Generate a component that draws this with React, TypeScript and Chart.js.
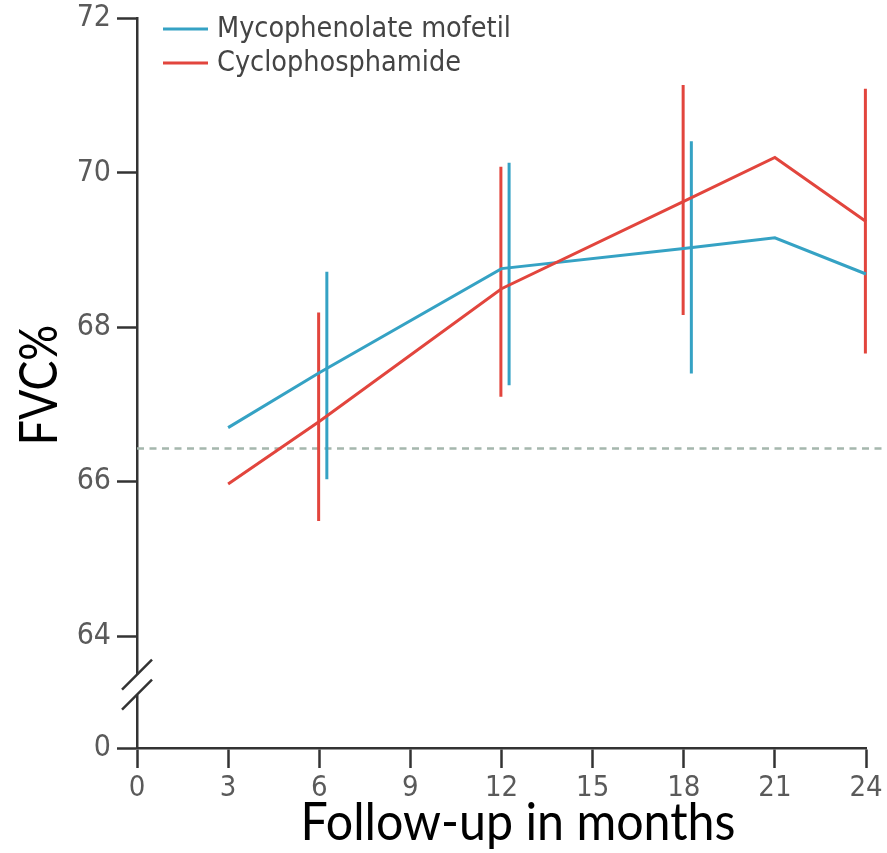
import React, { useEffect, useRef } from 'react';
import { Chart, registerables } from 'chart.js';

Chart.register(...registerables);

// ---- data ----
const months = [3, 6, 12, 18, 21, 24];
const mmfValues = [66.7, 67.41, 68.76, 69.02, 69.16, 68.69];
const cycValues = [65.97, 66.78, 68.5, 69.63, 70.2, 69.37];
const errMonths = [6, 12, 18, 24];
const mmfLow = [66.03, 67.25, 67.4, 66.95];
const mmfHigh = [68.72, 70.13, 70.41, 70.32];
const cycLow = [65.49, 67.1, 68.16, 67.66];
const cycHigh = [68.19, 70.08, 71.14, 71.09];
const baselineFVC = 66.43;
const xTicks = [0, 3, 6, 9, 12, 15, 18, 21, 24];
const yTicks = [64, 66, 68, 70, 72];
const yZeroAt = 62.55; // value position used for the "0" below the axis break
const yBreak = [63.5, 63.24];
const seriesLabels = ['Mycophenolate mofetil', 'Cyclophosphamide'];
const xTitle = 'Follow-up in months';
const yTitle = 'FVC%';

const BLUE = '#35a2c4';
const RED = '#e2453d';
const AXIS = '#333333';
const NARROW = "'Liberation Sans Narrow', 'DejaVu Sans Condensed', 'Arial Narrow', sans-serif";
const TITLE = "Lato, 'Open Sans', sans-serif";

const mmfShift = 0.25;
const cycShift = -0.02;

function errData(low: number[], high: number[], shift: number) {
  const out: any[] = [];
  errMonths.forEach((m, i) => {
    out.push({ x: m + shift, y: low[i] });
    out.push({ x: m + shift, y: high[i] });
    out.push({ x: m + shift, y: null });
  });
  return out;
}

const decor = {
  id: 'decor',
  afterDraw(chart: any) {
    const { ctx, scales } = chart;
    const x = scales.x;
    const y = scales.y;
    const ax = x.left;
    const b1 = y.getPixelForValue(yBreak[0]);
    const b2 = y.getPixelForValue(yBreak[1]);
    ctx.save();
    ctx.fillStyle = '#ffffff';
    ctx.fillRect(ax - 3, b1, 6, b2 - b1);
    ctx.strokeStyle = AXIS;
    ctx.lineWidth = 2.5;
    [b1, b2].forEach((b) => {
      ctx.beginPath();
      ctx.moveTo(ax - 15, b + 15);
      ctx.lineTo(ax + 15, b - 15);
      ctx.stroke();
    });

    // legend
    ctx.font = `28.5px ${NARROW}`;
    ctx.textBaseline = 'middle';
    ctx.textAlign = 'left';
    [BLUE, RED].forEach((c, i) => {
      const ly = 29 + i * 34;
      ctx.strokeStyle = c;
      ctx.lineWidth = 3;
      ctx.beginPath();
      ctx.moveTo(163, ly);
      ctx.lineTo(208, ly);
      ctx.stroke();
      ctx.fillStyle = '#444444';
      ctx.fillText(seriesLabels[i], 217, ly + 1);
    });

    // axis titles
    ctx.fillStyle = '#000000';
    ctx.font = `52px ${TITLE}`;
    ctx.textAlign = 'center';
    ctx.textBaseline = 'alphabetic';
    ctx.save();
    ctx.translate(518, 840);
    ctx.scale(0.93, 1);
    ctx.fillText(xTitle, 0, 0);
    ctx.restore();
    ctx.translate(57, 385);
    ctx.rotate(-Math.PI / 2);
    ctx.scale(0.86, 1);
    ctx.fillText(yTitle, 0, 0);
    ctx.restore();
  },
};

export default function App() {
  const ref = useRef<HTMLCanvasElement | null>(null);
  useEffect(() => {
    const canvas = ref.current!;
    const chart = new Chart(canvas, {
      type: 'line',
      data: {
        datasets: [
          {
            label: seriesLabels[0],
            data: months.map((m, i) => ({ x: m, y: mmfValues[i] })),
            borderColor: BLUE,
            borderWidth: 3,
            pointRadius: 0,
            tension: 0,
            clip: false,
            order: 2,
          },
          {
            label: seriesLabels[1],
            data: months.map((m, i) => ({ x: m, y: cycValues[i] })),
            borderColor: RED,
            borderWidth: 3,
            pointRadius: 0,
            tension: 0,
            clip: false,
            order: 1,
          },
          {
            label: 'mmf-ci',
            data: errData(mmfLow, mmfHigh, mmfShift),
            borderColor: BLUE,
            borderWidth: 3,
            pointRadius: 0,
            spanGaps: false,
            clip: false,
            order: 4,
          },
          {
            label: 'cyc-ci',
            data: errData(cycLow, cycHigh, cycShift),
            borderColor: RED,
            borderWidth: 3,
            pointRadius: 0,
            spanGaps: false,
            clip: false,
            order: 3,
          },
          {
            label: 'baseline',
            data: [
              { x: 0, y: baselineFVC },
              { x: 24.7, y: baselineFVC },
            ],
            borderColor: '#a5b7ad',
            borderWidth: 2.5,
            borderDash: [7, 5.5],
            pointRadius: 0,
            clip: false,
            order: 10,
          },
        ],
      },
      options: {
        animation: false,
        responsive: false,
        devicePixelRatio: 1,
        layout: { padding: { top: 18.5, right: 21, left: 0, bottom: 0 } },
        plugins: { legend: { display: false }, tooltip: { enabled: false } },
        scales: {
          x: {
            type: 'linear',
            min: 0,
            max: 24,
            afterFit: (s: any) => {
              s.height = 105;
            },
            afterBuildTicks: (s: any) => {
              s.ticks = xTicks.map((v) => ({ value: v }));
            },
            grid: {
              drawOnChartArea: false,
              drawTicks: true,
              tickLength: 20,
              tickColor: AXIS,
              tickWidth: 2.5,
            },
            border: { display: true, color: AXIS, width: 2.5 },
            ticks: {
              color: '#5a5a5a',
              font: { family: NARROW, size: 29 },
              padding: 3,
              maxRotation: 0,
              autoSkip: false,
            },
          },
          y: {
            type: 'linear',
            min: yZeroAt,
            max: 72,
            afterFit: (s: any) => {
              s.width = 137;
              s.paddingTop = 0;
            },
            afterBuildTicks: (s: any) => {
              s.ticks = [yZeroAt, ...yTicks].map((v) => ({ value: v }));
            },
            grid: {
              drawOnChartArea: false,
              drawTicks: true,
              tickLength: 20,
              tickColor: AXIS,
              tickWidth: 2.5,
            },
            border: { display: true, color: AXIS, width: 2.5 },
            ticks: {
              color: '#5a5a5a',
              font: { family: NARROW, size: 30 },
              padding: 6,
              autoSkip: false,
              callback: (v: any) => (v === yZeroAt ? '0' : String(v)),
            },
          },
        },
      },
      plugins: [decor],
    });
    return () => chart.destroy();
  }, []);
  return (
    <div style={{ position: 'absolute', left: 0, top: 0, width: 887, height: 853, background: '#fff' }}>
      <canvas ref={ref} width={887} height={853} />
    </div>
  );
}
